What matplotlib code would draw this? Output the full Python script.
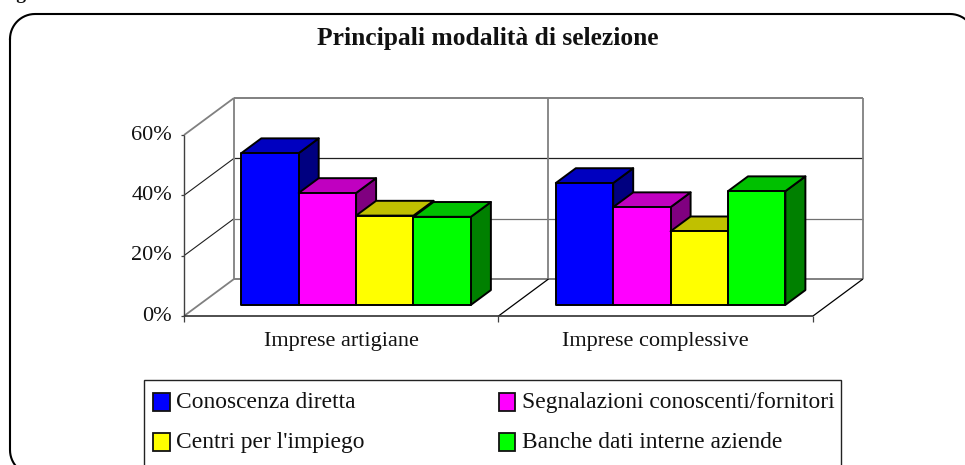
#!/usr/bin/env python3
"""Principali modalita di selezione: 3D-look clustered bars drawn in 2D."""
import matplotlib
matplotlib.use("Agg")
import matplotlib.pyplot as plt
import numpy as np
from matplotlib.patches import Polygon, Rectangle

plt.rcParams["font.family"] = ["Liberation Serif", "DejaVu Serif"]

CATEGORIES = ["Imprese artigiane", "Imprese complessive"]
SERIES = [
    "Conoscenza diretta",
    "Segnalazioni conoscenti/fornitori",
    "Centri per l'impiego",
    "Banche dati interne aziende",
]
VALUES = [
    [50.3, 40.4],
    [37.1, 32.4],
    [29.6, 24.4],
    [29.2, 37.7],
]
TICKS = [0, 20, 40, 60]
TICK_LABELS = ["0%", "20%", "40%", "60%"]
TITLE = "Principali modalità di selezione"

FRONT = ["#0000ff", "#ff00ff", "#ffff00", "#00ff00"]
TOP = ["#0000c0", "#c000c0", "#c0c000", "#00c000"]
SIDE = ["#000080", "#800080", "#808000", "#008000"]

# pixel layout of the category/value plane, axes run over the whole figure
W, H = 965, 465
X0_PX, CAT_PX = 184.0, 314.5
Y0_PX, PCT_PX = 316.0, 181.0 / 60
DX = 50.0 / CAT_PX
DY = 37.0 / PCT_PX
BAR_W = 0.1825
BAR_START = 0.1345
BAR_D0, BAR_D1 = 0.30, 0.70

fig = plt.figure(figsize=(W / 100, H / 100), dpi=100)
ax = fig.add_axes([0, 0, 1, 1])
ax.set_xlim(-X0_PX / CAT_PX, (W - X0_PX) / CAT_PX)
ax.set_ylim((Y0_PX - H) / PCT_PX, Y0_PX / PCT_PX)
ax.axis("off")


def px(x, y):
    """Figure pixel (from top left) to data coordinates, for furniture."""
    return (x - X0_PX) / CAT_PX, (Y0_PX - y) / PCT_PX


def pr(x, v, d=0.0):
    return x + d * DX, v + d * DY


def seg(p, q, color, lw, z=1):
    ax.plot([p[0], q[0]], [p[1], q[1]], color=color, lw=lw, zorder=z,
            solid_capstyle="butt")


# outer rounded frame, runs off the canvas on the right and bottom
r = 25
L, T, R, B = 10, 14, 975, 475
corners = [(L + r, T + r, 180), (R - r, T + r, 270), (R - r, B - r, 0), (L + r, B - r, 90)]
fx, fy = [], []
for cx, cy, start in corners:
    a = np.radians(np.linspace(start, start + 90, 16))
    fx.extend(cx + r * np.cos(a))
    fy.extend(cy + r * np.sin(a))
fx.append(fx[0])
fy.append(fy[0])
pts = [px(a, b) for a, b in zip(fx, fy)]
ax.plot([p[0] for p in pts], [p[1] for p in pts], color="black", lw=1.5, zorder=1)

# walls and gridlines
n_cat = len(CATEGORIES)
for t in TICKS:
    edge = t in (TICKS[0], TICKS[-1])
    c = "#808080" if edge else "#202020"
    lw = 1.3 if edge else 0.8
    seg(pr(0, t), pr(0, t, 1), c, lw)
    seg(pr(0, t, 1), pr(n_cat, t, 1), "#808080" if edge else ("#707070" if t == 20 else "#202020"),
        1.4 if edge else 0.9)
for i in range(n_cat + 1):
    seg(pr(i, TICKS[0], 1), pr(i, TICKS[-1], 1), "#808080", 1.3)
for i in (1, 2):
    seg(pr(i, 0), pr(i, 0, 1), "black", 0.9)

# axis lines and ticks
seg(pr(0, 0), pr(0, 60), "#404040", 1.0, 2)
seg(pr(0, 0), pr(n_cat, 0), "#303030", 1.2, 2)
for i in range(n_cat + 1):
    seg(pr(i, 0), (i, -6 / PCT_PX), "#404040", 0.9, 2)
for t, lab in zip(TICKS, TICK_LABELS):
    seg(pr(0, t), (-3 / CAT_PX, t), "#404040", 0.9, 2)
    ax.text(-12 / CAT_PX, t, lab, ha="right", va="center", fontsize=16, color="#111111")
for i, lab in enumerate(CATEGORIES):
    ax.text(i + 0.5, px(0, 341)[1], lab, ha="center", va="center", fontsize=16, color="#111111")

# bars, left to right so each one covers the side of the previous one
for i in range(n_cat):
    for j, vals in enumerate(VALUES):
        x = i + BAR_START + j * BAR_W
        v = vals[i]
        z = 5 + i * 10 + j
        kw = dict(ec="black", lw=1.4, joinstyle="round", zorder=z)
        ax.add_patch(Polygon([pr(x + BAR_W, 0, BAR_D0), pr(x + BAR_W, 0, BAR_D1),
                              pr(x + BAR_W, v, BAR_D1), pr(x + BAR_W, v, BAR_D0)],
                             fc=SIDE[j], **kw))
        ax.add_patch(Polygon([pr(x, v, BAR_D0), pr(x + BAR_W, v, BAR_D0),
                              pr(x + BAR_W, v, BAR_D1), pr(x, v, BAR_D1)],
                             fc=TOP[j], **kw))
        ax.add_patch(Polygon([pr(x, 0, BAR_D0), pr(x + BAR_W, 0, BAR_D0),
                              pr(x + BAR_W, v, BAR_D0), pr(x, v, BAR_D0)],
                             fc=FRONT[j], **kw))

# legend box, cut by the bottom edge like the reference
lx0, ly0 = px(143.5, 480)
lx1, ly1 = px(841, 380)
ax.add_patch(Rectangle((lx0, ly0), lx1 - lx0, ly1 - ly0, fc="white", ec="#222222", lw=1.0, zorder=50))
pos = [(153, 393), (499, 393), (153, 433), (499, 433)]
for name, col, (sx_, sy_) in zip(SERIES, FRONT, pos):
    a = px(sx_, sy_ + 17.5)
    b = px(sx_ + 16.5, sy_)
    ax.add_patch(Rectangle(a, b[0] - a[0], b[1] - a[1], fc=col, ec="#111111", lw=1.3, zorder=51))
    tx, ty = px(sx_ + 23, sy_ + 14.5)
    ax.text(tx, ty, name, ha="left", va="baseline", fontsize=16.9, color="#111111", zorder=51)

tx, ty = px(487.5, 38)
ax.text(tx, ty, TITLE, ha="center", va="center", fontsize=18.4, fontweight="bold", color="#111111")
tx, ty = px(0, -1)
ax.text(tx, ty, "Figura", ha="left", va="baseline", fontsize=14, fontweight="bold", color="#111111", clip_on=False)

fig.savefig("out.png", dpi=100)
